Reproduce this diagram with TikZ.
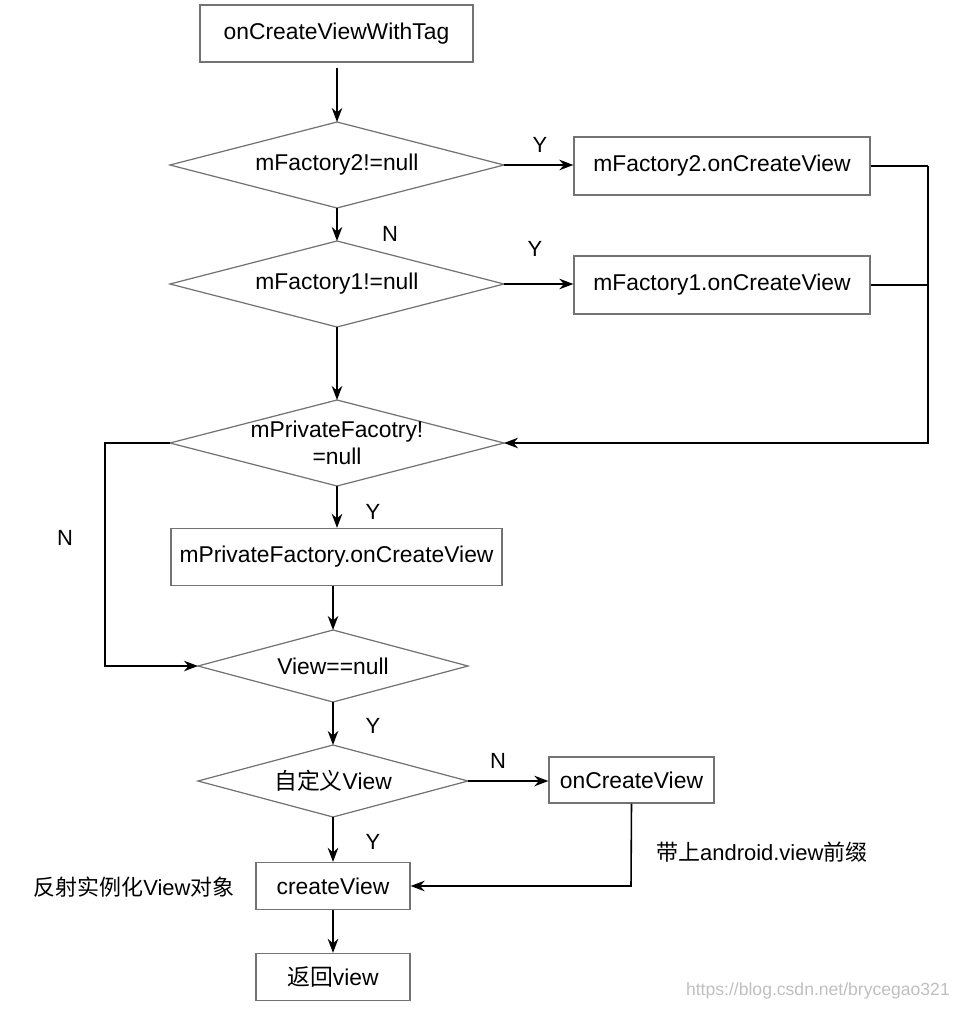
\documentclass[tikz,border=0pt]{standalone}
\usepackage{fontspec}
\setmainfont{Liberation Sans}
\newfontfamily\cjk{Noto Sans CJK SC}
\usetikzlibrary{arrows.meta}
\begin{document}
\begin{tikzpicture}[x=0.02cm,y=-0.02cm,
 box/.style={draw=black!55,line width=0.7pt,minimum height=#1*0.02cm,inner sep=0pt,font=\fontsize{13}{15}\selectfont},
 dia/.style={draw=black!55,line width=0.7pt},
 dt/.style={font=\fontsize{13}{15}\selectfont,align=center},
 lbl/.style={font=\fontsize{12.5}{15}\selectfont},
 ar/.style={-{Stealth[length=8pt,width=6pt]},line width=0.9pt},
 ln/.style={line width=0.9pt}]
\useasboundingbox (0,0) rectangle (960,1010);
\node[box=57,minimum width=273*0.02cm] (tag) at (336.5,33.5) {onCreateViewWithTag};
\newcommand{\mydia}[5]{\draw[dia] (#2-#4,#3) -- (#2,#3-#5) -- (#2+#4,#3) -- (#2,#3+#5) -- cycle;
 \coordinate (#1l) at (#2-#4,#3); \coordinate (#1r) at (#2+#4,#3);
 \coordinate (#1t) at (#2,#3-#5); \coordinate (#1b) at (#2,#3+#5);}
\mydia{d2}{337}{165}{167}{43}
\node[dt] (t2) at (337,165) {mFactory2!=null};
\mydia{d1}{337}{284}{167}{43}
\node[dt] (t1) at (337,284) {mFactory1!=null};
\mydia{dp}{337}{443}{167}{43}
\node[dt] (tp) at (337,443) {mPrivateFacotry!\\=null};
\mydia{dv}{333}{666}{135}{36}
\node[dt] (tv) at (333,666) {View==null};
\mydia{dc}{333}{781}{135}{36}
\node[dt] (tc) at (333,781) {{\cjk 自定义}View};
\node[box=58,minimum width=296*0.02cm] (f2) at (722,166) {mFactory2.onCreateView};
\node[box=58,minimum width=296*0.02cm] (f1) at (722,285) {mFactory1.onCreateView};
\node[box=57,minimum width=331*0.02cm] (pf) at (336.5,557) {mPrivateFactory.onCreateView};
\node[box=46,minimum width=165*0.02cm] (oc) at (631.5,780) {onCreateView};
\node[box=47,minimum width=154*0.02cm] (cv) at (333,886) {createView};
\node[box=47,minimum width=154*0.02cm] (rv) at (333,977) {{\cjk 返回}view};
\draw[ar] (tag.south -| 337,0) ++(0,5) -- (d2t);
\draw[ar] (d2b) -- (d1t);
\draw[ar] (d2r) -- (d2r -| f2.west);
\draw[ar] (d1r) -- (d1r -| f1.west);
\draw[ar] (d1b) -- (dpt);
\draw[ar] (dpb) -- (pf.north -| 337,0);
\draw[ar] (pf.south -| 333,0) -- (dvt);
\draw[ar] (dvb) -- (dct);
\draw[ar] (dcb) -- (cv.north);
\draw[ar] (cv.south) -- (rv.north);
\draw[ar] (dcr) -- (dcr -| oc.west);
\coordinate (c1) at (928,166); \coordinate (c2) at (928,443);
\draw[ln] (f2.east) -- (c1);
\draw[ln] (f1.east) -- (f1.east -| c1);
\draw[ar] (c1) -- (c2) -- (dpr);
\coordinate (l1) at (105,443); \coordinate (l2) at (105,666);
\draw[ar] (dpl) -- (l1) -- (l2) -- (dvl);
\coordinate (o1) at (631,886);
\draw[ar] (oc.south) -- (o1) -- (cv.east);
\node[lbl] (y1) at (540,145) {Y};
\node[lbl] (n1) at (390,234) {N};
\node[lbl] (y2) at (535,249) {Y};
\node[lbl] (n2) at (65,538) {N};
\node[lbl] (y3) at (373,512) {Y};
\node[lbl] (y4) at (373,726) {Y};
\node[lbl] (n3) at (498,761) {N};
\node[lbl] (y5) at (373,842) {Y};
\node[lbl,anchor=west] (pre) at (650,852) {{\cjk 带上}android.view{\cjk 前缀}};
\node[lbl] (fs) at (134,887) {{\cjk 反射实例化}View{\cjk 对象}};
\node[font=\fontsize{10}{12}\selectfont,text=black!25,anchor=east] (wm) at (956,991) {https://blog.csdn.net/brycegao321};
\end{tikzpicture}
\end{document}
